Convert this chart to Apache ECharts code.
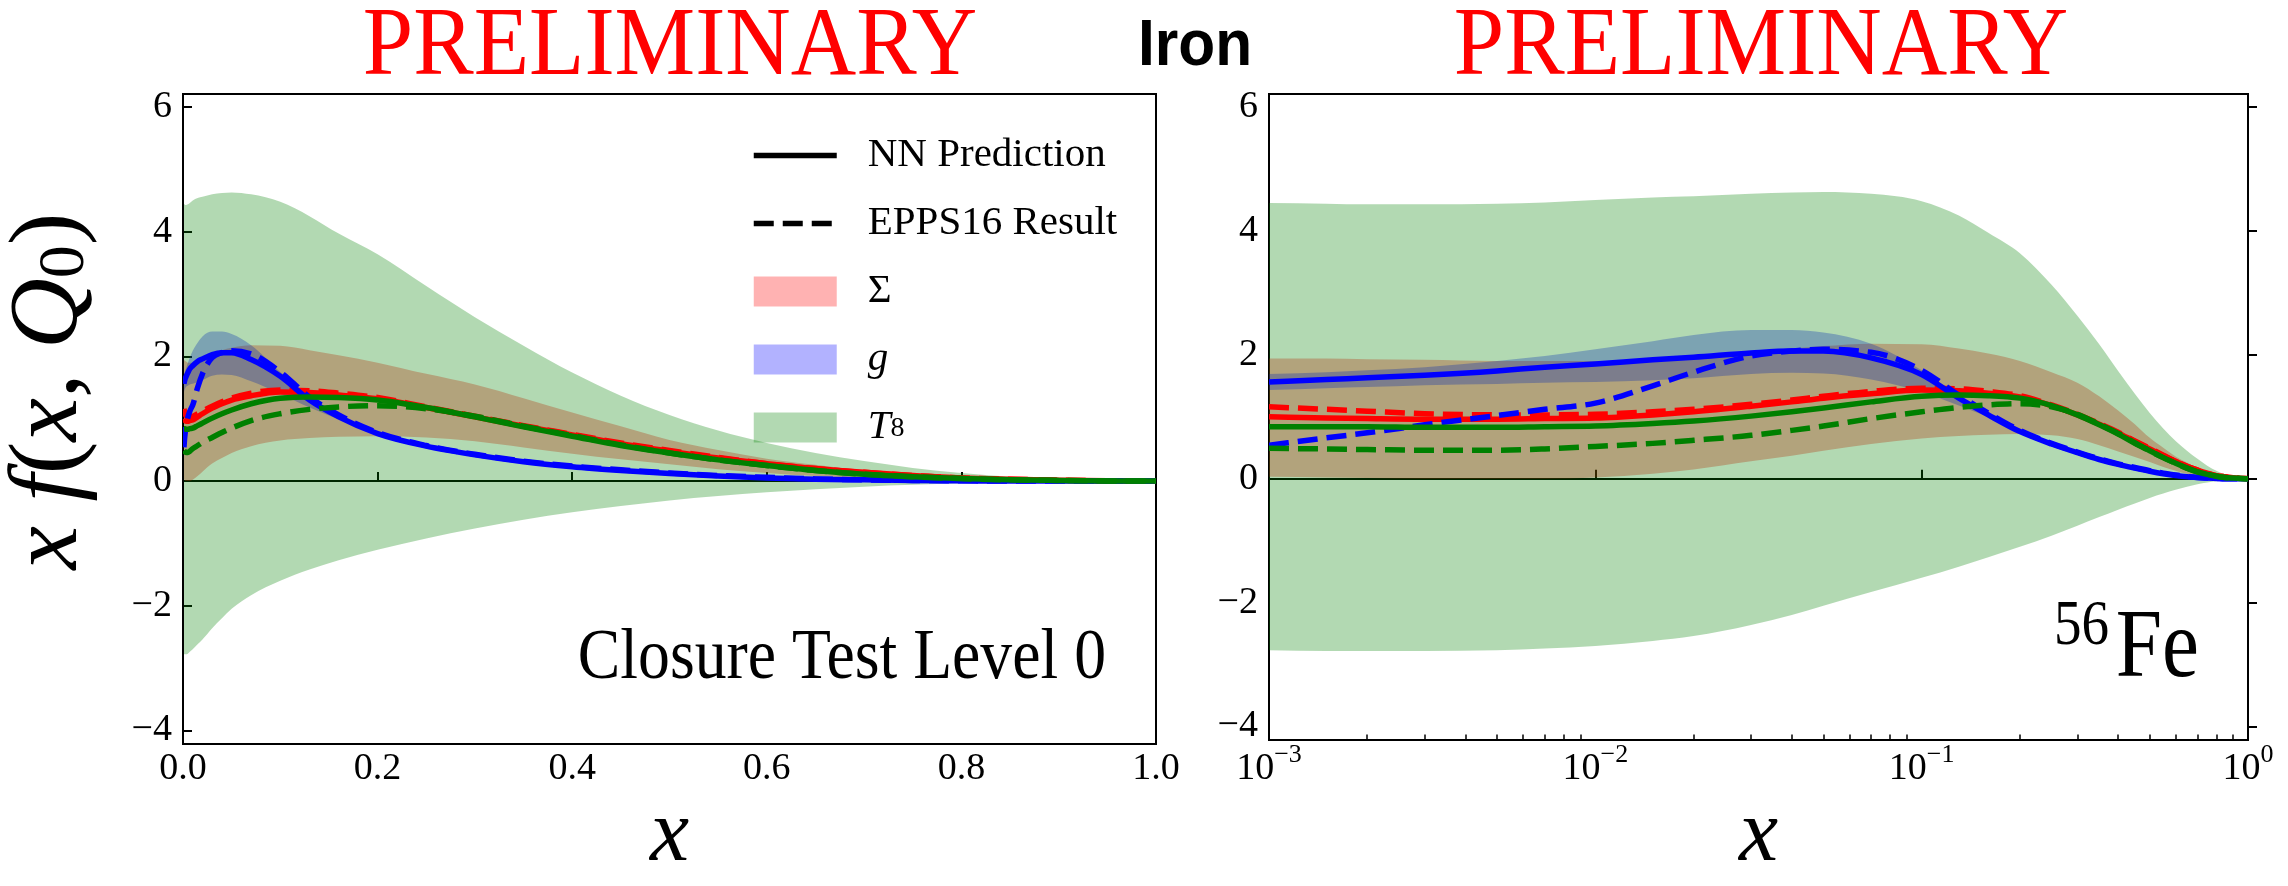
<!DOCTYPE html>
<html>
<head>
<meta charset="utf-8">
<script src="https://cdn.jsdelivr.net/npm/echarts@6/dist/echarts.min.js"></script>
<style>
html,body{margin:0;padding:0;background:#fff;}
#c{width:2288px;height:886px;}
</style>
</head>
<body>
<div id="c"></div>
<script>
// ---------------- data ----------------
const xs = [0.001, 0.0015, 0.002, 0.003, 0.005, 0.007, 0.01, 0.015, 0.02, 0.03, 0.04, 0.05, 0.07, 0.1, 0.13, 0.16, 0.2, 0.25, 0.3, 0.35, 0.4, 0.45, 0.5, 0.55, 0.6, 0.65, 0.7, 0.75, 0.8, 0.85, 0.9, 0.95, 1.0];

// uncertainty bands
const t8Upper  = [4.45, 4.44, 4.43, 4.43, 4.44, 4.46, 4.5, 4.54, 4.56, 4.6, 4.62, 4.63, 4.6, 4.48, 4.25, 3.97, 3.64, 3.13, 2.63, 2.17, 1.74, 1.37, 1.06, 0.81, 0.61, 0.45, 0.32, 0.21, 0.13, 0.07, 0.035, 0.012, 0.0];
const t8Lower  = [-2.77, -2.78, -2.78, -2.78, -2.77, -2.74, -2.7, -2.62, -2.54, -2.36, -2.2, -2.05, -1.83, -1.6, -1.42, -1.27, -1.1, -0.92, -0.76, -0.62, -0.5, -0.4, -0.31, -0.24, -0.18, -0.13, -0.09, -0.06, -0.04, -0.025, -0.012, -0.004, 0.0];
const sigUpper = [1.94, 1.94, 1.93, 1.92, 1.9, 1.9, 1.9, 1.93, 1.96, 2.04, 2.1, 2.14, 2.18, 2.17, 2.1, 2.02, 1.9, 1.72, 1.55, 1.33, 1.1, 0.88, 0.66, 0.5, 0.36, 0.26, 0.17, 0.1, 0.06, 0.03, 0.01, 0.005, 0.0];
const sigLower = [0.03, 0.02, 0.01, 0.0, 0.0, 0.0, 0.02, 0.08, 0.15, 0.28, 0.37, 0.45, 0.56, 0.65, 0.69, 0.71, 0.72, 0.7, 0.64, 0.54, 0.44, 0.35, 0.27, 0.19, 0.13, 0.08, 0.05, 0.03, 0.02, 0.01, 0.005, 0.0, 0.0];
const gUpper   = [1.69, 1.72, 1.75, 1.8, 1.9, 1.98, 2.09, 2.22, 2.32, 2.4, 2.4, 2.36, 2.18, 1.75, 1.34, 1.07, 0.79, 0.59, 0.44, 0.33, 0.25, 0.19, 0.14, 0.1, 0.065, 0.04, 0.03, 0.015, 0.01, 0.005, 0.0, 0.0, 0.0];
const gLower   = [1.43, 1.46, 1.48, 1.51, 1.53, 1.55, 1.56, 1.59, 1.62, 1.69, 1.71, 1.7, 1.6, 1.4, 1.18, 0.99, 0.73, 0.53, 0.4, 0.29, 0.21, 0.15, 0.1, 0.06, 0.035, 0.02, 0.01, 0.005, 0.0, 0.0, 0.0, 0.0, 0.0];

// central curves
const sigNN   = [1.0, 0.98, 0.97, 0.96, 0.96, 0.97, 0.98, 1.03, 1.08, 1.17, 1.24, 1.3, 1.37, 1.43, 1.42, 1.38, 1.32, 1.18, 1.03, 0.88, 0.74, 0.6, 0.48, 0.37, 0.28, 0.2, 0.14, 0.09, 0.05, 0.03, 0.015, 0.005, 0.0];
const sigEPPS = [1.16, 1.12, 1.09, 1.05, 1.03, 1.03, 1.04, 1.08, 1.12, 1.2, 1.27, 1.33, 1.41, 1.46, 1.45, 1.41, 1.34, 1.19, 1.04, 0.89, 0.75, 0.61, 0.49, 0.38, 0.28, 0.2, 0.14, 0.09, 0.05, 0.03, 0.015, 0.005, 0.0];
const gNN     = [1.56, 1.6, 1.63, 1.67, 1.74, 1.8, 1.85, 1.92, 1.96, 2.03, 2.06, 2.06, 1.95, 1.68, 1.3, 1.03, 0.76, 0.56, 0.42, 0.31, 0.23, 0.17, 0.12, 0.08, 0.05, 0.03, 0.02, 0.01, 0.005, 0.0, 0.0, 0.0, 0.0];
const gEPPS   = [0.54, 0.66, 0.74, 0.87, 1.02, 1.12, 1.22, 1.5, 1.72, 1.98, 2.06, 2.09, 2.04, 1.75, 1.35, 1.06, 0.78, 0.57, 0.43, 0.32, 0.24, 0.18, 0.13, 0.09, 0.06, 0.035, 0.02, 0.01, 0.005, 0.0, 0.0, 0.0, 0.0];
const t8NN    = [0.84, 0.84, 0.84, 0.83, 0.83, 0.84, 0.85, 0.89, 0.93, 1.01, 1.08, 1.14, 1.24, 1.33, 1.35, 1.34, 1.3, 1.18, 1.03, 0.87, 0.72, 0.57, 0.45, 0.34, 0.25, 0.17, 0.11, 0.07, 0.04, 0.02, 0.01, 0.003, 0.0];
const t8EPPS  = [0.49, 0.48, 0.47, 0.46, 0.46, 0.48, 0.52, 0.57, 0.62, 0.7, 0.78, 0.85, 0.97, 1.08, 1.15, 1.19, 1.21, 1.16, 1.04, 0.88, 0.73, 0.58, 0.45, 0.34, 0.25, 0.17, 0.11, 0.07, 0.04, 0.02, 0.01, 0.003, 0.0];

// ticks
const yTicks = [-4, -2, 0, 2, 4, 6];
const logMinorMultipliers = [2, 3, 4, 5, 6, 7, 8, 9];
const logDecades = [-3, -2, -1];

// ---------------- chart ----------------
const SERIF = '"Liberation Serif", "DejaVu Serif", serif';
const SANS = '"Liberation Sans", Arial, sans-serif';
const chart = echarts.init(document.getElementById('c'), null, {renderer: 'canvas'});

// monotone cubic (pixel space) path segments through pts, starting at pts[0]
function monoSegments(pts) {
  const n = pts.length;
  const d = [], m = new Array(n);
  for (let i = 0; i < n - 1; i++) {
    const h = pts[i + 1][0] - pts[i][0];
    d.push(h !== 0 ? (pts[i + 1][1] - pts[i][1]) / h : 0);
  }
  m[0] = d[0]; m[n - 1] = d[n - 2];
  for (let i = 1; i < n - 1; i++) {
    const h0 = pts[i][0] - pts[i - 1][0], h1 = pts[i + 1][0] - pts[i][0];
    const s0 = d[i - 1], s1 = d[i];
    const p = (s0 * h1 + s1 * h0) / (h0 + h1);
    m[i] = (Math.sign(s0) + Math.sign(s1)) * Math.min(Math.abs(s0), Math.abs(s1), 0.5 * Math.abs(p)) || 0;
  }
  let s = '';
  for (let i = 0; i < n - 1; i++) {
    const h = pts[i + 1][0] - pts[i][0];
    s += ' C ' + (pts[i][0] + h / 3) + ' ' + (pts[i][1] + m[i] * h / 3) + ' ' +
         (pts[i + 1][0] - h / 3) + ' ' + (pts[i + 1][1] - m[i + 1] * h / 3) + ' ' +
         pts[i + 1][0] + ' ' + pts[i + 1][1];
  }
  return s;
}

function band(name, lower, upper, color, gi) {
  return {
    type: 'custom', name: name, xAxisIndex: gi, yAxisIndex: gi, silent: true, clip: true, z: 2,
    color: color,
    data: xs.map((x, i) => [x, lower[i], upper[i]]),
    encode: {x: 0, y: [1, 2]},
    renderItem: function (params, api) {
      if (params.dataIndexInside !== 0) return null;
      const n = params.dataInsideLength;
      const top = [], bot = [];
      for (let j = 0; j < n; j++) {
        const x = api.value(0, j);
        bot.push(api.coord([x, api.value(1, j)]));
        top.push(api.coord([x, api.value(2, j)]));
      }
      const botRev = bot.slice().reverse();
      const pathData = 'M ' + top[0][0] + ' ' + top[0][1] + monoSegments(top) +
        ' L ' + botRev[0][0] + ' ' + botRev[0][1] + monoSegments(botRev) + ' Z';
      return {type: 'path', shape: {pathData: pathData}, style: {fill: color, stroke: null}};
    }
  };
}
function curve(name, arr, color, dashed, gi) {
  return {
    type: 'custom', name: name + gi, xAxisIndex: gi, yAxisIndex: gi, silent: true, clip: true, z: 3,
    color: color,
    data: xs.map((x, i) => [x, arr[i]]),
    encode: {x: 0, y: 1},
    renderItem: function (params, api) {
      if (params.dataIndexInside !== 0) return null;
      const n = params.dataInsideLength;
      const pts = [];
      for (let j = 0; j < n; j++) pts.push(api.coord([api.value(0, j), api.value(1, j)]));
      const pathData = 'M ' + pts[0][0] + ' ' + pts[0][1] + monoSegments(pts);
      return {type: 'path', shape: {pathData: pathData},
        style: {fill: null, stroke: color, lineWidth: 5.5, lineDash: dashed ? [20, 9] : null, lineCap: 'butt', lineJoin: 'round'}};
    }
  };
}

const RED = '#ff0000', BLUE = '#0000ff', GREEN = '#008000';
const RED_A = 'rgba(255,0,0,0.3)', BLUE_A = 'rgba(0,0,255,0.3)', GREEN_A = 'rgba(0,128,0,0.3)';

const series = [];
[0, 1].forEach(gi => {
  series.push(band('Σ', sigLower, sigUpper, RED_A, gi));
  series.push(band('g', gLower, gUpper, BLUE_A, gi));
  series.push(band('T8', t8Lower, t8Upper, GREEN_A, gi));
});
[0, 1].forEach(gi => {
  series.push(curve('sigNN', sigNN, RED, false, gi));
  series.push(curve('sigEPPS', sigEPPS, RED, true, gi));
  series.push(curve('gNN', gNN, BLUE, false, gi));
  series.push(curve('gEPPS', gEPPS, BLUE, true, gi));
  series.push(curve('t8NN', t8NN, GREEN, false, gi));
  series.push(curve('t8EPPS', t8EPPS, GREEN, true, gi));
});
// legend-only entries
series.push({type: 'line', name: 'NN Prediction', xAxisIndex: 0, yAxisIndex: 0, data: [], symbol: 'none',
  color: '#000', lineStyle: {color: '#000', width: 5.5}});
series.push({type: 'line', name: 'EPPS16 Result', xAxisIndex: 0, yAxisIndex: 0, data: [], symbol: 'none',
  color: '#000', lineStyle: {color: '#000', width: 5.5, type: [20, 9]}});

const minus = v => String(v).replace('-', '\u2212');
const tickLabelStyle = {fontFamily: SERIF, fontSize: 38, color: '#000'};
const axisLineStyle = {color: '#000', width: 2};

function yAxis(gi, withName) {
  const ax = {
    gridIndex: gi, type: 'value', min: -4.22, max: 6.21, position: 'left',
    axisLine: {show: true, lineStyle: axisLineStyle},
    axisTick: {show: true, inside: true, length: 9, lineStyle: {color: '#000', width: 2}, customValues: yTicks},
    axisLabel: Object.assign({margin: 11, customValues: yTicks, formatter: minus}, tickLabelStyle),
    splitLine: {show: false}
  };
  if (withName) {
    ax.name = '{i|x f}{r|(}{i|x}{r|, }{i|Q}{s|0}{r|)}';
    ax.nameLocation = 'middle';
    ax.nameRotate = 90;
    ax.nameGap = 84;
    ax.nameTextStyle = {
      fontFamily: SERIF, fontSize: 98, color: '#000', padding: [0, 0, 0, 56],
      rich: {
        i: {fontFamily: SERIF, fontSize: 98, fontStyle: 'italic', lineHeight: 98, color: '#000'},
        r: {fontFamily: SERIF, fontSize: 98, lineHeight: 98, color: '#000'},
        s: {fontFamily: SERIF, fontSize: 66, lineHeight: 58, verticalAlign: 'bottom', color: '#000'}
      }
    };
  }
  return ax;
}

const xNameStyle = {fontFamily: SERIF, fontSize: 88, fontStyle: 'italic', color: '#000'};

const minorLogTicks = [];
logDecades.forEach(d => logMinorMultipliers.forEach(m => minorLogTicks.push(d + Math.log10(m))));

function buildOption() {
  return {
    animation: false,
    backgroundColor: '#fff',
    textStyle: {fontFamily: SERIF},
    grid: [
      {left: 178, top: 94, width: 978, height: 664, show: true, borderColor: '#000', borderWidth: 2, backgroundColor: 'transparent'},
      {left: 1269, top: 94, width: 979, height: 664, show: true, borderColor: '#000', borderWidth: 2, backgroundColor: 'transparent'}
    ],
    xAxis: [
      {gridIndex: 0, type: 'value', min: 0, max: 1, interval: 0.2, position: 'bottom',
       name: 'x', nameLocation: 'middle', nameGap: 46, nameTextStyle: xNameStyle,
       axisLine: {show: true, lineStyle: axisLineStyle},
       axisTick: {show: true, inside: true, length: 9, lineStyle: {color: '#000', width: 2}},
       axisLabel: Object.assign({margin: 6, formatter: v => v.toFixed(1)}, tickLabelStyle),
       splitLine: {show: false}},
      {gridIndex: 1, type: 'log', logBase: 10, min: 0.001, max: 1, position: 'bottom',
       name: 'x', nameLocation: 'middle', nameGap: 46, nameTextStyle: xNameStyle,
       axisLine: {show: true, lineStyle: axisLineStyle},
       axisTick: {show: true, inside: true, length: 9, lineStyle: {color: '#000', width: 2}},
       axisLabel: {
         margin: 2, color: '#000', fontFamily: SERIF,
         formatter: v => { const e = Math.round(Math.log10(v)); return '{b|10}{s|' + minus(e) + '}'; },
         rich: {
           b: {fontFamily: SERIF, fontSize: 38, lineHeight: 46, verticalAlign: 'bottom', color: '#000'},
           s: {fontFamily: SERIF, fontSize: 26, lineHeight: 26, verticalAlign: 'top', color: '#000'}
         }
       },
       splitLine: {show: false}},
      {gridIndex: 1, type: 'value', min: -3, max: 0, position: 'bottom',
       axisLine: {show: false}, axisLabel: {show: false}, splitLine: {show: false},
       axisTick: {show: true, inside: true, length: 5.5, lineStyle: {color: '#000', width: 1.5}, customValues: minorLogTicks}}
    ],
    yAxis: [yAxis(0, true), yAxis(1, false)],
    legend: {
      orient: 'vertical', left: 746, top: 130, itemWidth: 83, itemHeight: 30, itemGap: 27,
      selectedMode: false, align: 'left',
      data: [
        {name: 'NN Prediction', itemStyle: {opacity: 0}, lineStyle: {width: 5.5, color: '#000', type: 'solid'}},
        {name: 'EPPS16 Result', itemStyle: {opacity: 0}, lineStyle: {width: 5.5, color: '#000', type: [20, 9]}},
        {name: 'Σ', icon: 'rect', itemStyle: {color: RED_A, borderWidth: 0}},
        {name: 'g', icon: 'rect', itemStyle: {color: BLUE_A, borderWidth: 0}},
        {name: 'T8', icon: 'rect', itemStyle: {color: GREEN_A, borderWidth: 0}}
      ],
      formatter: n => n === 'g' ? '{i|g}' : (n === 'T8' ? '{i|T}{s|8}' : n),
      textStyle: {
        fontFamily: SERIF, fontSize: 41, color: '#000', lineHeight: 30, padding: [0, 0, 0, 26],
        rich: {
          i: {fontFamily: SERIF, fontSize: 41, fontStyle: 'italic', lineHeight: 30, color: '#000'},
          s: {fontFamily: SERIF, fontSize: 28, lineHeight: 20, verticalAlign: 'bottom', color: '#000'}
        }
      }
    },
    graphic: [
      {type: 'text', x: 670, y: 48, scaleX: 0.925, silent: true,
       style: {text: 'PRELIMINARY', fill: '#ff0000', fontFamily: SERIF, fontSize: 98, align: 'center', verticalAlign: 'middle'}},
      {type: 'text', x: 1761, y: 48, scaleX: 0.925, silent: true,
       style: {text: 'PRELIMINARY', fill: '#ff0000', fontFamily: SERIF, fontSize: 98, align: 'center', verticalAlign: 'middle'}},
      {type: 'text', x: 1195, y: 47, scaleX: 0.93, silent: true,
       style: {text: 'Iron', fill: '#000', fontFamily: SANS, fontWeight: 'bold', fontSize: 65, align: 'center', verticalAlign: 'middle'}},
      {type: 'text', x: 1106, y: 659, scaleX: 0.885, silent: true,
       style: {text: 'Closure Test Level 0', fill: '#000', fontFamily: SERIF, fontSize: 72, align: 'right', verticalAlign: 'middle'}},
      {type: 'text', x: 2199, y: 650, scaleX: 0.85, silent: true,
       style: {text: 'Fe', fill: '#000', fontFamily: SERIF, fontSize: 98, align: 'right', verticalAlign: 'middle'}},
      {type: 'text', x: 2109, y: 627, scaleX: 0.86, silent: true,
       style: {text: '56', fill: '#000', fontFamily: SERIF, fontSize: 64, align: 'right', verticalAlign: 'middle'}}
    ],
    series: series
  };
}
function render() { chart.setOption(buildOption(), true); }
render();
if (document.fonts) { document.fonts.ready.then(render); }
</script>
</body>
</html>
